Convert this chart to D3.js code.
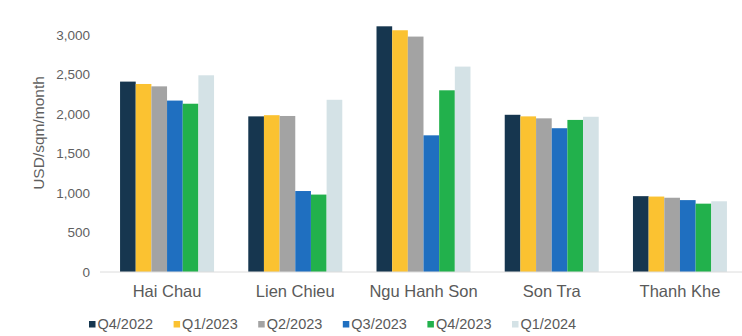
<!DOCTYPE html>
<html>
<head>
<meta charset="utf-8">
<script src="https://cdn.jsdelivr.net/npm/d3@7"></script>
<style>
  html, body { margin: 0; padding: 0; background: #ffffff; }
  svg { display: block; font-family: "Liberation Sans", Arial, sans-serif; }
</style>
</head>
<body>
<svg id="chart" width="742" height="336"></svg>
<script>
// Districts along the x axis
const districts = ["Hai Chau", "Lien Chieu", "Ngu Hanh Son", "Son Tra", "Thanh Khe"];

// Quarters (legend order)
const quarters = ["Q4/2022", "Q1/2023", "Q2/2023", "Q3/2023", "Q4/2023", "Q1/2024"];

// Asking rent, USD/sqm/month, one array per quarter in district order
const q4_2022 = [2410, 1970, 3110, 1990, 960];
const q1_2023 = [2380, 1985, 3060, 1970, 955];
const q2_2023 = [2350, 1975, 2980, 1945, 940];
const q3_2023 = [2170, 1025, 1730, 1820, 910];
const q4_2023 = [2130, 980, 2300, 1925, 865];
const q1_2024 = [2490, 2180, 2600, 1965, 895];

const seriesValues = [q4_2022, q1_2023, q2_2023, q3_2023, q4_2023, q1_2024];

// y-axis ticks
const yTicks = [0, 500, 1000, 1500, 2000, 2500, 3000];

const colors = ["#16364f", "#fbc231", "#a3a3a3", "#1f6fc0", "#22b14c", "#d4e2e6"];

const svg = d3.select("#chart");
const plot = { left: 103, right: 744, top: 35, bottom: 272 };

const x0 = d3.scaleBand()
  .domain(districts)
  .range([plot.left, plot.right])
  .paddingInner(0.267)
  .paddingOuter(0.133);

const x1 = d3.scaleBand()
  .domain(quarters)
  .range([0, x0.bandwidth()])
  .padding(0);

const y = d3.scaleLinear()
  .domain([0, 3000])
  .range([plot.bottom, plot.top]);

const color = d3.scaleOrdinal().domain(quarters).range(colors);

// Bars
const groups = svg.append("g")
  .selectAll("g")
  .data(districts)
  .join("g")
  .attr("transform", d => `translate(${x0(d)},0)`);

groups.selectAll("rect")
  .data((d, i) => quarters.map((q, j) => ({ q, v: seriesValues[j][i] })))
  .join("rect")
  .attr("x", d => x1(d.q))
  .attr("width", x1.bandwidth())
  .attr("y", d => y(d.v))
  .attr("height", d => y(0) - y(d.v))
  .attr("fill", d => color(d.q));

// Baseline
svg.append("line")
  .attr("x1", 100).attr("x2", 742)
  .attr("y1", y(0)).attr("y2", y(0))
  .attr("stroke", "#dcdcdc")
  .attr("stroke-width", 1);

// Y axis labels
const yAxis = d3.axisLeft(y)
  .tickValues(yTicks)
  .tickSize(0)
  .tickPadding(0)
  .tickFormat(d3.format(","));

const yg = svg.append("g")
  .attr("transform", "translate(90,0)")
  .call(yAxis);
yg.select(".domain").remove();
yg.selectAll("text")
  .attr("fill", "#5f5f5f")
  .attr("font-size", 13.5)
  .attr("font-family", "Liberation Sans, Arial, sans-serif");

// Y axis title
svg.append("text")
  .attr("transform", "translate(44,133) rotate(-90)")
  .attr("text-anchor", "middle")
  .attr("fill", "#5f5f5f")
  .attr("font-size", 15.5)
  .text("USD/sqm/month");

// X axis labels
const xAxis = d3.axisBottom(x0).tickSize(0).tickPadding(0);
const xg = svg.append("g")
  .attr("transform", `translate(0,${plot.bottom})`)
  .call(xAxis);
xg.select(".domain").remove();
xg.selectAll("text")
  .attr("dy", null)
  .attr("y", 25)
  .attr("fill", "#5a5a5a")
  .attr("font-size", 16.5)
  .attr("font-family", "Liberation Sans, Arial, sans-serif");

// Legend
const legend = svg.append("g")
  .selectAll("g")
  .data(quarters)
  .join("g")
  .attr("transform", (d, i) => `translate(${89 + i * 84.6},0)`);

legend.append("rect")
  .attr("x", 0).attr("y", 321)
  .attr("width", 6.5).attr("height", 6.5)
  .attr("fill", d => color(d));

legend.append("text")
  .attr("x", 8.5).attr("y", 328.5)
  .attr("fill", "#5a5a5a")
  .attr("font-size", 14.5)
  .text(d => d);
</script>
</body>
</html>
